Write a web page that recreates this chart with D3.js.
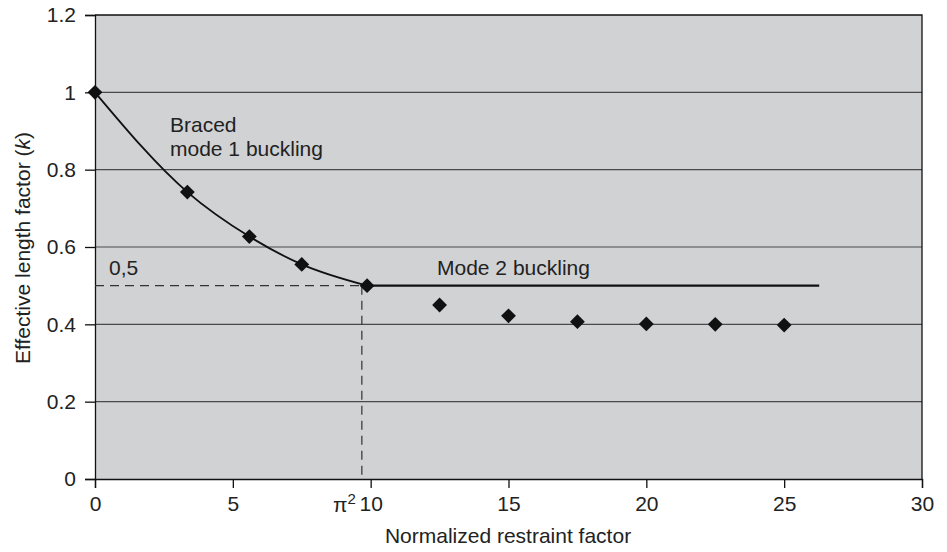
<!DOCTYPE html>
<html>
<head>
<meta charset="utf-8">
<script src="https://cdn.jsdelivr.net/npm/d3@7"></script>
<style>
  html, body { margin: 0; padding: 0; background: #fff; }
  svg { display: block; font-family: "Liberation Sans", Arial, sans-serif; }
</style>
</head>
<body>
<svg id="chart" width="947" height="552"></svg>
<script>
// ---- data ----
const xTicks = [0, 5, 10, 15, 20, 25, 30];
const yTicks = [0, 0.2, 0.4, 0.6, 0.8, 1, 1.2];
const yTickLabels = ["0", "0.2", "0.4", "0.6", "0.8", "1", "1.2"];
const mode1X = [0, 3.35, 5.6, 7.5, 9.87];
const mode1Y = [1.0, 0.742, 0.627, 0.555, 0.5];
const mode2X = [12.5, 15, 17.5, 20, 22.5, 25];
const mode2Y = [0.45, 0.422, 0.407, 0.401, 0.400, 0.398];
const mode2LineX = [9.87, 26.27];
const mode2LineY = [0.5, 0.5];
const piSqMarkX = 9.68;
const refY = 0.5;

// ---- layout ----
const svg = d3.select("#chart");
const pLeft = 95, pRight = 922, pTop = 15, pBottom = 479;
const x = d3.scaleLinear().domain([0, 30]).range([pLeft, pRight]);
const y = d3.scaleLinear().domain([0, 1.2]).range([pBottom, pTop]);
const fs = 21;
const ff = "Liberation Sans, Arial, sans-serif";

// background
svg.append("rect").attr("x", pLeft).attr("y", pTop)
  .attr("width", pRight - pLeft).attr("height", pBottom - pTop)
  .attr("fill", "#d1d2d4");

// grid lines
svg.append("g").selectAll("line").data(yTicks.filter(v => v > 0 && v < 1.2)).join("line")
  .attr("x1", pLeft).attr("x2", pRight)
  .attr("y1", d => y(d)).attr("y2", d => y(d))
  .attr("stroke", "#4a4a4a").attr("stroke-width", 1.2);

// border top/right
svg.append("path")
  .attr("d", `M${pLeft},${pTop}H${pRight}V${pBottom}`)
  .attr("fill", "none").attr("stroke", "#111").attr("stroke-width", 1.3);

// axes
const yAxis = d3.axisLeft(y).tickValues(yTicks).tickSize(10).tickPadding(9)
  .tickFormat((d, i) => yTickLabels[i]);
const gy = svg.append("g").attr("transform", `translate(${pLeft},0)`).call(yAxis);
gy.select(".domain").attr("stroke", "#111").attr("stroke-width", 1.3);
gy.selectAll(".tick line").attr("stroke", "#111").attr("stroke-width", 1.3);
gy.selectAll(".tick text").attr("font-size", fs).attr("fill", "#222").attr("font-family", ff);

const xAxis = d3.axisBottom(x).tickValues(xTicks).tickSize(9).tickPadding(8)
  .tickFormat(d3.format("d"));
const gx = svg.append("g").attr("transform", `translate(0,${pBottom})`).call(xAxis);
gx.select(".domain").attr("stroke", "#111").attr("stroke-width", 1.3);
gx.selectAll(".tick line").attr("stroke", "#111").attr("stroke-width", 1.3);
gx.selectAll(".tick text").attr("font-size", fs).attr("fill", "#222").attr("font-family", ff);

// dashed reference lines
svg.append("line")
  .attr("x1", x(0)).attr("x2", x(mode1X[mode1X.length - 1]))
  .attr("y1", y(refY)).attr("y2", y(refY))
  .attr("stroke", "#333").attr("stroke-width", 1.2).attr("stroke-dasharray", "9,6");
svg.append("line")
  .attr("x1", x(piSqMarkX)).attr("x2", x(piSqMarkX))
  .attr("y1", y(refY)).attr("y2", y(0))
  .attr("stroke", "#333").attr("stroke-width", 1.2).attr("stroke-dasharray", "9,6");

// mode 1 curve
const m1 = mode1X.map((v, i) => [v, mode1Y[i]]);
svg.append("path").datum(m1)
  .attr("d", d3.line().x(d => x(d[0])).y(d => y(d[1])).curve(d3.curveMonotoneX))
  .attr("fill", "none").attr("stroke", "#111").attr("stroke-width", 1.8);

// mode 2 line
const m2l = mode2LineX.map((v, i) => [v, mode2LineY[i]]);
svg.append("path").datum(m2l)
  .attr("d", d3.line().x(d => x(d[0])).y(d => y(d[1])))
  .attr("fill", "none").attr("stroke", "#111").attr("stroke-width", 2.4);

// markers
const diamond = d3.symbol(d3.symbolSquare, 110);
const pts = m1.concat(mode2X.map((v, i) => [v, mode2Y[i]]));
svg.append("g").selectAll("path").data(pts).join("path")
  .attr("d", diamond)
  .attr("transform", d => `translate(${x(d[0])},${y(d[1])}) rotate(45)`)
  .attr("fill", "#111");

// annotations
const ann = svg.append("g").attr("font-size", fs).attr("fill", "#222").attr("font-family", ff);
ann.append("text").attr("x", 170).attr("y", 132).text("Braced");
ann.append("text").attr("x", 170).attr("y", 156).text("mode 1 buckling");
ann.append("text").attr("x", 437).attr("y", 275).text("Mode 2 buckling");
ann.append("text").attr("x", 109).attr("y", 275).text("0,5");
const pi = ann.append("text").attr("x", 333).attr("y", 512);
pi.append("tspan").text("π");
pi.append("tspan").attr("dy", -8).attr("font-size", 15).text("2");

// axis titles
svg.append("text").attr("x", 508).attr("y", 543).attr("text-anchor", "middle")
  .attr("font-size", fs).attr("fill", "#222").attr("font-family", ff)
  .text("Normalized restraint factor");
const yt = svg.append("text")
  .attr("transform", "translate(30,248) rotate(-90)")
  .attr("text-anchor", "middle").attr("font-size", fs).attr("fill", "#222")
  .attr("font-family", ff);
yt.append("tspan").text("Effective length factor (");
yt.append("tspan").attr("font-style", "italic").text("k");
yt.append("tspan").text(")");
</script>
</body>
</html>
